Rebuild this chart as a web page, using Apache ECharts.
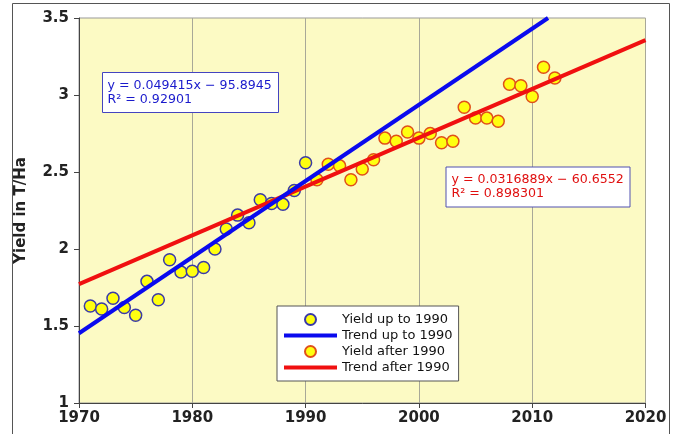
<!DOCTYPE html>
<html><head><meta charset="utf-8">
<script src="https://cdn.jsdelivr.net/npm/echarts@6/dist/echarts.min.js"></script>
<style>html,body{margin:0;padding:0;background:#fff}#c{width:674px;height:434px}</style>
</head><body><div id="c"></div>
<script>
// Yield up to 1990
const yearsUpTo1990 = [1971,1972,1973,1974,1975,1976,1977,1978,1979,1980,1981,1982,1983,1984,1985,1986,1987,1988,1989,1990];
const yieldUpTo1990 = [1.63,1.61,1.68,1.62,1.57,1.79,1.67,1.93,1.85,1.855,1.88,2.0,2.13,2.22,2.17,2.32,2.295,2.29,2.38,2.56];
// Yield after 1990
const yearsAfter1990 = [1991,1992,1993,1994,1995,1996,1997,1998,1999,2000,2001,2002,2003,2004,2005,2006,2007,2008,2009,2010,2011,2012];
const yieldAfter1990 = [2.45,2.55,2.54,2.45,2.52,2.58,2.72,2.70,2.76,2.72,2.75,2.69,2.70,2.92,2.85,2.85,2.83,3.07,3.06,2.99,3.18,3.11];
// Trend line end points
const trendUpToX = [1970, 2011.4];
const trendUpToY = [1.453, 3.5];
const trendAfterX = [1970, 2020];
const trendAfterY = [1.772, 3.356];
// Axis ticks
const xTicks = [1970,1980,1990,2000,2010,2020];
const yTicks = [1,1.5,2,2.5,3,3.5];
const eqUpTo = ['y = 0.049415x \u2212 95.8945','R\u00b2 = 0.92901'];
const eqAfter = ['y = 0.0316889x \u2212 60.6552','R\u00b2 = 0.898301'];
const seriesNames = ['Yield up to 1990','Trend up to 1990','Yield after 1990','Trend after 1990'];

const zip = (a,b)=>a.map((v,i)=>[v,b[i]]);
const chart = echarts.init(document.getElementById('c'));
const font = 'DejaVu Sans';
const lineIcon = 'path://M0,0h53v4h-53z';
chart.setOption({
  animation:false,
  backgroundColor:'#fff',
  grid:{left:79,top:18,width:566.5,height:385,show:true,backgroundColor:'#fcfac4',borderColor:'#999',borderWidth:1},
  xAxis:{type:'value',min:xTicks[0],max:xTicks[xTicks.length-1],interval:10,
    axisLine:{onZero:false,lineStyle:{color:'#444',width:1}},
    axisTick:{show:true,length:5,lineStyle:{color:'#444'}},
    axisLabel:{margin:8,fontFamily:font,fontWeight:'bold',fontSize:15,color:'#222',formatter:v=>String(v)},
    splitLine:{show:true,lineStyle:{color:'#a8a898',width:1}}},
  yAxis:{type:'value',min:yTicks[0],max:yTicks[yTicks.length-1],interval:0.5,
    name:'Yield in T/Ha',nameLocation:'middle',nameGap:50,nameRotate:90,
    nameTextStyle:{fontFamily:font,fontWeight:'bold',fontSize:15,color:'#222'},
    axisLine:{show:true,onZero:false,lineStyle:{color:'#444',width:1}},
    axisTick:{show:true,length:5,lineStyle:{color:'#444'}},
    axisLabel:{margin:10,fontFamily:font,fontWeight:'bold',fontSize:15,color:'#222'},
    splitLine:{show:false}},
  legend:{orient:'vertical',left:277,top:306,padding:[7,6,7,7],itemGap:3,itemWidth:53,itemHeight:11,
    backgroundColor:'#fff',borderColor:'#555',borderWidth:1,borderRadius:0,
    textStyle:{fontFamily:font,fontSize:13,color:'#111'},
    data:[{name:seriesNames[0]},{name:seriesNames[1],icon:lineIcon},{name:seriesNames[2]},{name:seriesNames[3],icon:lineIcon}]},
  series:[
    {name:seriesNames[0],type:'scatter',z:2,data:zip(yearsUpTo1990,yieldUpTo1990),symbolSize:12,
      itemStyle:{color:'#ffff10',borderColor:'#3a3aa8',borderWidth:1.5,opacity:1}},
    {name:seriesNames[1],type:'line',z:4,data:zip(trendUpToX,trendUpToY),symbol:'none',symbolKeepAspect:true,
      lineStyle:{color:'#0a0aee',width:4},itemStyle:{color:'#0a0aee'}},
    {name:seriesNames[2],type:'scatter',z:2,data:zip(yearsAfter1990,yieldAfter1990),symbolSize:12,
      itemStyle:{color:'#ffff10',borderColor:'#e0501a',borderWidth:1.5,opacity:1}},
    {name:seriesNames[3],type:'line',z:3,data:zip(trendAfterX,trendAfterY),symbol:'none',symbolKeepAspect:true,
      lineStyle:{color:'#f01010',width:4},itemStyle:{color:'#f01010'}}
  ],
  graphic:[
    {type:'rect',z:100,shape:{x:12.5,y:3.5,width:657,height:440},style:{fill:null,stroke:'#555',lineWidth:1}},
    {type:'rect',z:100,shape:{x:102.5,y:72.5,width:176,height:40},style:{fill:'#fff',stroke:'#4444c0',lineWidth:1}},
    {type:'text',z:101,x:107.5,y:79,style:{text:eqUpTo.join('\n'),fill:'#1a1acc',font:'12.6px "DejaVu Sans"',lineHeight:14,verticalAlign:'top'}},
    {type:'rect',z:100,shape:{x:446,y:167,width:184,height:40},style:{fill:'#fff',stroke:'#5050b0',lineWidth:1}},
    {type:'text',z:101,x:451.5,y:172.5,style:{text:eqAfter.join('\n'),fill:'#e01010',font:'12.6px "DejaVu Sans"',lineHeight:14,verticalAlign:'top'}}
  ]
});
</script></body></html>
